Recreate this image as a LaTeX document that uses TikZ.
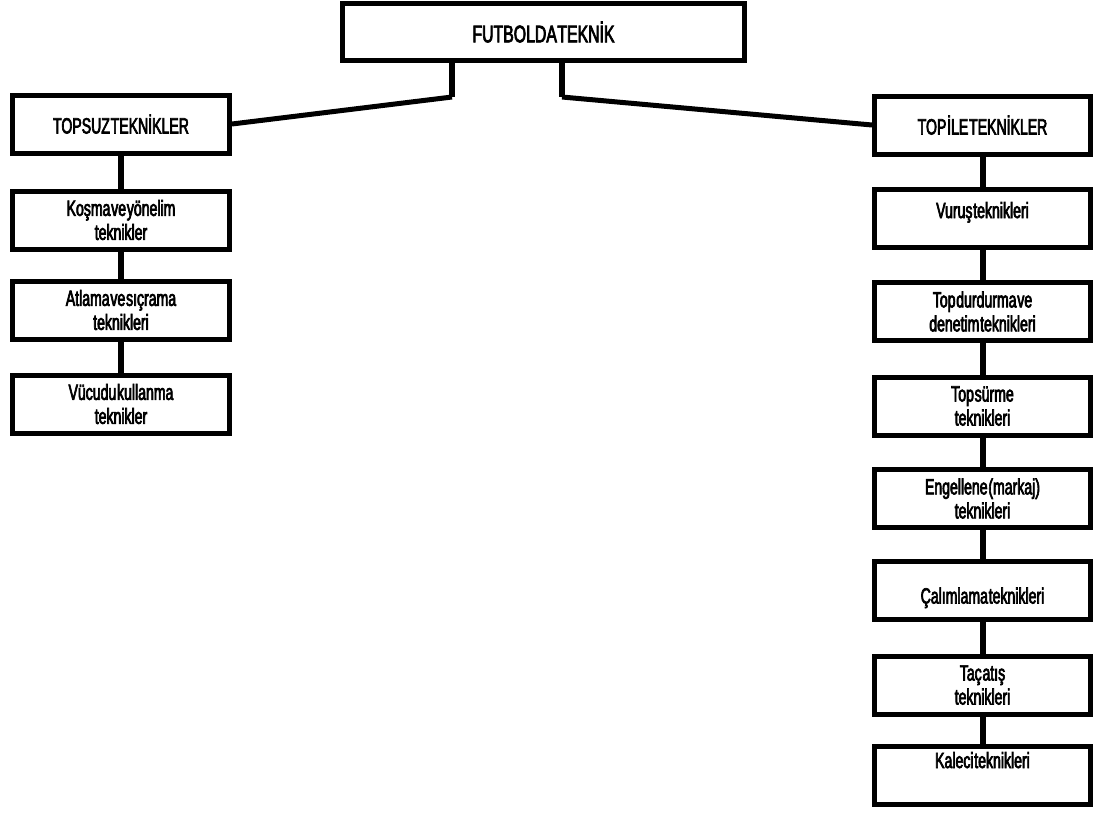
\documentclass[tikz,border=0pt]{standalone}
\usepackage{fontspec}
\setmainfont{Liberation Sans}[FakeStretch=0.64,WordSpace=0.2,FakeBold=3]
\newfontfamily\anafont{Liberation Sans}[FakeStretch=0.66,WordSpace=0.1,FakeBold=3]
\usepackage{tikz}

\begin{document}
\begin{tikzpicture}[x=1pt,y=-1pt,
		kutu/.style={draw, line width=5pt, fill=white, align=center, inner sep=2pt,
			font=\fontsize{22}{24}\selectfont},
		solkutu/.style={kutu, minimum width=217pt, minimum height=58pt},
		sagkutu/.style={kutu, minimum width=216pt, minimum height=58pt},
		bag/.style={line width=6pt}]
	\useasboundingbox (0,0) rectangle (1097,812);

	% ANA BASLIK
	\node[kutu, minimum width=402pt, minimum height=57pt, font=\anafont\fontsize{24}{27}\selectfont] (ana) at (543.5,32) {FUTBOLDA TEKNİK};

	% TOPSUZ TEKNIKLER
	\node[solkutu] (topsuz) at (121,124) {TOPSUZ TEKNİKLER};
	\node[solkutu] (kosma) at (121,220) {Koşma ve yönelim\\teknikler};
	\node[solkutu] (atlama) at (121,310) {Atlama ve sıçrama\\teknikleri};
	\node[solkutu] (vucut) at (121,404) {Vücudu kullanma\\teknikler};

	% TOP ILE TEKNIKLER
	\node[sagkutu] (topile) at (982.5,125) {TOP İLE TEKNİKLER};
	\node[sagkutu, text height=16pt, text depth=17pt] (vurus) at (982.5,218.5) {Vuruş teknikleri};
	\node[sagkutu] (durdurma) at (982.5,311.5) {Top durdurma ve\\denetim teknikleri};
	\node[sagkutu] (surme) at (982.5,406) {Top sürme\\teknikleri};
	\node[sagkutu] (engel) at (982.5,498.5) {Engellene (markaj)\\teknikleri};
	\node[sagkutu, text height=32pt, text depth=5pt] (calim) at (982.5,590) {Çalımlama teknikleri};
	\node[sagkutu, text height=16pt, text depth=31pt] (kaleci) at (982.5,775.5) {Kaleci teknikleri};
	\node[sagkutu] (tac) at (982.5,685) {Taç atış\\teknikleri};

	% DALLAR
	\coordinate (solkirik) at (452,97);
	\coordinate (sagkirik) at (562,97);
	\draw [bag] (ana.south -| solkirik) -- (solkirik);
	\draw [line width=5pt] (solkirik) -- (topsuz.east);
	\draw [bag] (ana.south -| sagkirik) -- (sagkirik);
	\draw [line width=5pt] (sagkirik) -- (topile.west);

	\foreach \a/\b in {topsuz/kosma, kosma/atlama, atlama/vucut,
		topile/vurus, vurus/durdurma, durdurma/surme, surme/engel,
		engel/calim, calim/tac, tac/kaleci} {
		\draw [bag] (\a.south) -- (\b.north);
	}
\end{tikzpicture}
\end{document}
